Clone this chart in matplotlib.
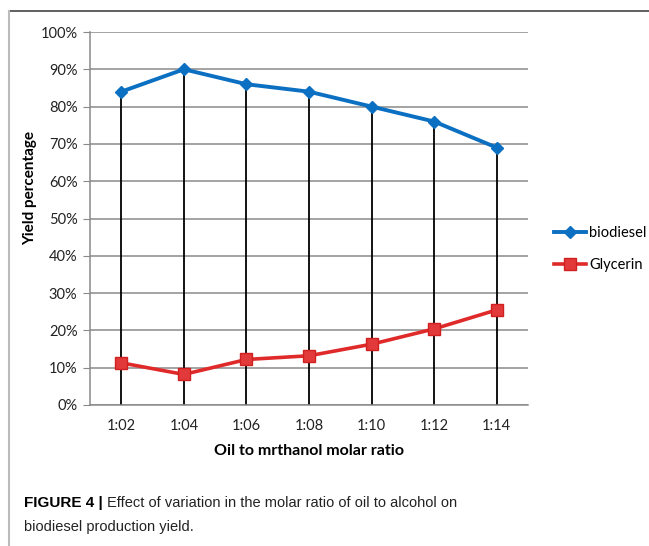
import matplotlib.pyplot as plt
from matplotlib.lines import Line2D
from matplotlib.ticker import PercentFormatter

ratios = ["1:02", "1:04", "1:06", "1:08", "1:10", "1:12", "1:14"]
biodiesel = [84, 90, 86, 84, 80, 76, 69]
glycerin = [11.3, 8.2, 12.2, 13.2, 16.3, 20.4, 25.5]

W, H = 649, 546
chart_font = ["Lato", "DejaVu Sans"]
caption_font = ["Liberation Sans", "DejaVu Sans"]

fig = plt.figure(figsize=(W / 100, H / 100), dpi=100)
ax = fig.add_axes([90 / W, 1 - 405 / H, (528 - 90) / W, (405 - 32) / H])

x = list(range(len(ratios)))

# horizontal gridlines and drop lines from the biodiesel points
ax.set_ylim(0, 100)
ax.set_xlim(-0.5, len(ratios) - 0.5)
ax.set_yticks(range(0, 101, 10))
ax.yaxis.set_major_formatter(PercentFormatter(decimals=0))
ax.grid(axis="y", color="#8a8a8a", lw=1.1)
ax.set_axisbelow(True)
ax.vlines(x, 0, biodiesel, color="black", lw=1.3, zorder=2)

ax.plot(x, biodiesel, color="#0b6fc2", lw=2.8, marker="D", ms=6,
        mfc="#0b6fc2", mec="#0b6fc2", label="biodiesel", zorder=4)
ax.plot(x, glycerin, color="#e02a2a", lw=2.6, marker="s", ms=8.5,
        mfc="#e23a3a", mec="#d02020", label="Glycerin", zorder=4)

ax.set_xticks(x)
ax.set_xticklabels(ratios)
for side in ("top", "right"):
    ax.spines[side].set_visible(False)
ax.spines["left"].set_color("#8a8a8a")
ax.spines["bottom"].set_color("#8a8a8a")
ax.spines["left"].set_linewidth(1.1)
ax.spines["bottom"].set_linewidth(1.1)
ax.tick_params(axis="y", length=5, color="#8a8a8a", pad=4)
ax.tick_params(axis="x", length=0, pad=10)
for lab in ax.get_xticklabels() + ax.get_yticklabels():
    lab.set_family(chart_font)
    lab.set_fontsize(10.5)
    lab.set_color("#222222")

ax.set_xlabel("Oil to mrthanol molar ratio", family=chart_font, fontsize=11.5,
              fontweight="bold", labelpad=8)
ax.set_ylabel("Yield percentage", family=chart_font, fontsize=11,
              fontweight="bold")
ax.yaxis.set_label_coords((37 - 90) / 438, (405 - 188) / 373)

ax.legend(loc="center left", bbox_to_anchor=(541 / W, 1 - 249 / H),
          bbox_transform=fig.transFigure, frameon=False, handlelength=2.2,
          handletextpad=0.2, labelspacing=1.2,
          prop={"family": chart_font, "size": 10.5})

# outer frame (top and left edges)
fig.add_artist(Line2D([9 / W, 1], [1 - 11 / H, 1 - 11 / H], color="#444444",
                      lw=1.2, transform=fig.transFigure))
fig.add_artist(Line2D([9 / W, 9 / W], [1 - 11 / H, 0], color="#bbbbbb",
                      lw=1.5, transform=fig.transFigure))

# caption: bold lead-in, then the rest placed right after it
lead = fig.text(24 / W, 1 - 503 / H, "FIGURE 4 |", family=caption_font,
                fontsize=11, fontweight="bold", va="center", ha="left")
fig.canvas.draw()
lead_end = lead.get_window_extent().x1
fig.text((lead_end + 4) / W, 1 - 503 / H,
         "Effect of variation in the molar ratio of oil to alcohol on",
         family=caption_font, fontsize=10.5, va="center", ha="left", color="#222222")
fig.text(24 / W, 1 - 527 / H, "biodiesel production yield.",
         family=caption_font, fontsize=10.5, va="center", ha="left", color="#222222")

fig.savefig("out.png", dpi=100)
